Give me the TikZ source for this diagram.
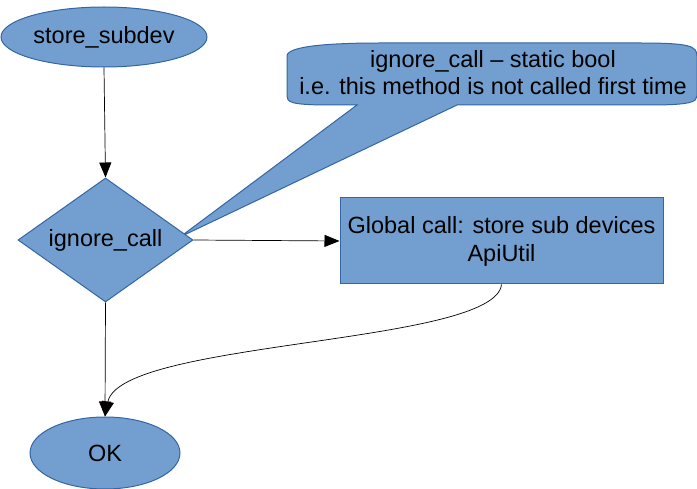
\documentclass[tikz,border=0pt]{standalone}
\usepackage{fontspec}
\setmainfont{Liberation Sans}
\usetikzlibrary{shapes.geometric,arrows.meta}
\definecolor{boxfill}{HTML}{729FCF}
\definecolor{boxline}{HTML}{3465A4}
\tikzset{
  shapebase/.style={fill=boxfill,draw=boxline,line width=1pt,inner sep=0pt,font=\fontsize{23.5}{28}\selectfont,align=center},
  ellnode/.style={shapebase,ellipse},
  decnode/.style={shapebase,diamond,aspect=1.4},
  procnode/.style={shapebase,rectangle},
  conn/.style={draw=black,line width=0.7pt,-{Triangle[length=15pt,width=12pt]}},
}
\begin{document}
\begin{tikzpicture}[x=1pt,y=-1pt]
\useasboundingbox (0,0) rectangle (697,489);
% callout
\path[fill=boxfill,draw=boxline,line width=1pt]
  (287,96) -- (287,56) .. controls (287,46) and (330,43) .. (380,43)
  -- (640,43) .. controls (690,43) and (697,46) .. (697,56)
  -- (697,96) .. controls (697,102) and (690,105) .. (650,105)
  -- (457,105) -- (180,237) -- (357,105) -- (330,105)
  .. controls (290,105) and (287,102) .. (287,96) -- cycle;
\node[font=\fontsize{23.5}{27}\selectfont,align=center] (note) at (493,73) {ignore\_call – static bool\\i.e. this method is not called first time};
\node[ellnode,minimum width=206pt,minimum height=60pt] (start) at (104,37) {store\_subdev};
\node[decnode,minimum width=175pt,minimum height=124pt] (dec) at (105.5,240) {ignore\_call};
\node[procnode,minimum width=323pt,minimum height=86pt] (proc) at (501.5,241) {Global call: store sub devices\\ApiUtil};
\node[ellnode,minimum width=150pt,minimum height=72pt] (ok) at (105,453) {OK};
\draw[conn] (start.south) -- (dec.north);
\draw[conn] (dec.east) -- (proc.west);
\draw[conn] (dec.south) -- (ok.north);
\draw[conn] (proc.south) .. controls (495,345) and (120,340) .. (ok.north);
\end{tikzpicture}
\end{document}
